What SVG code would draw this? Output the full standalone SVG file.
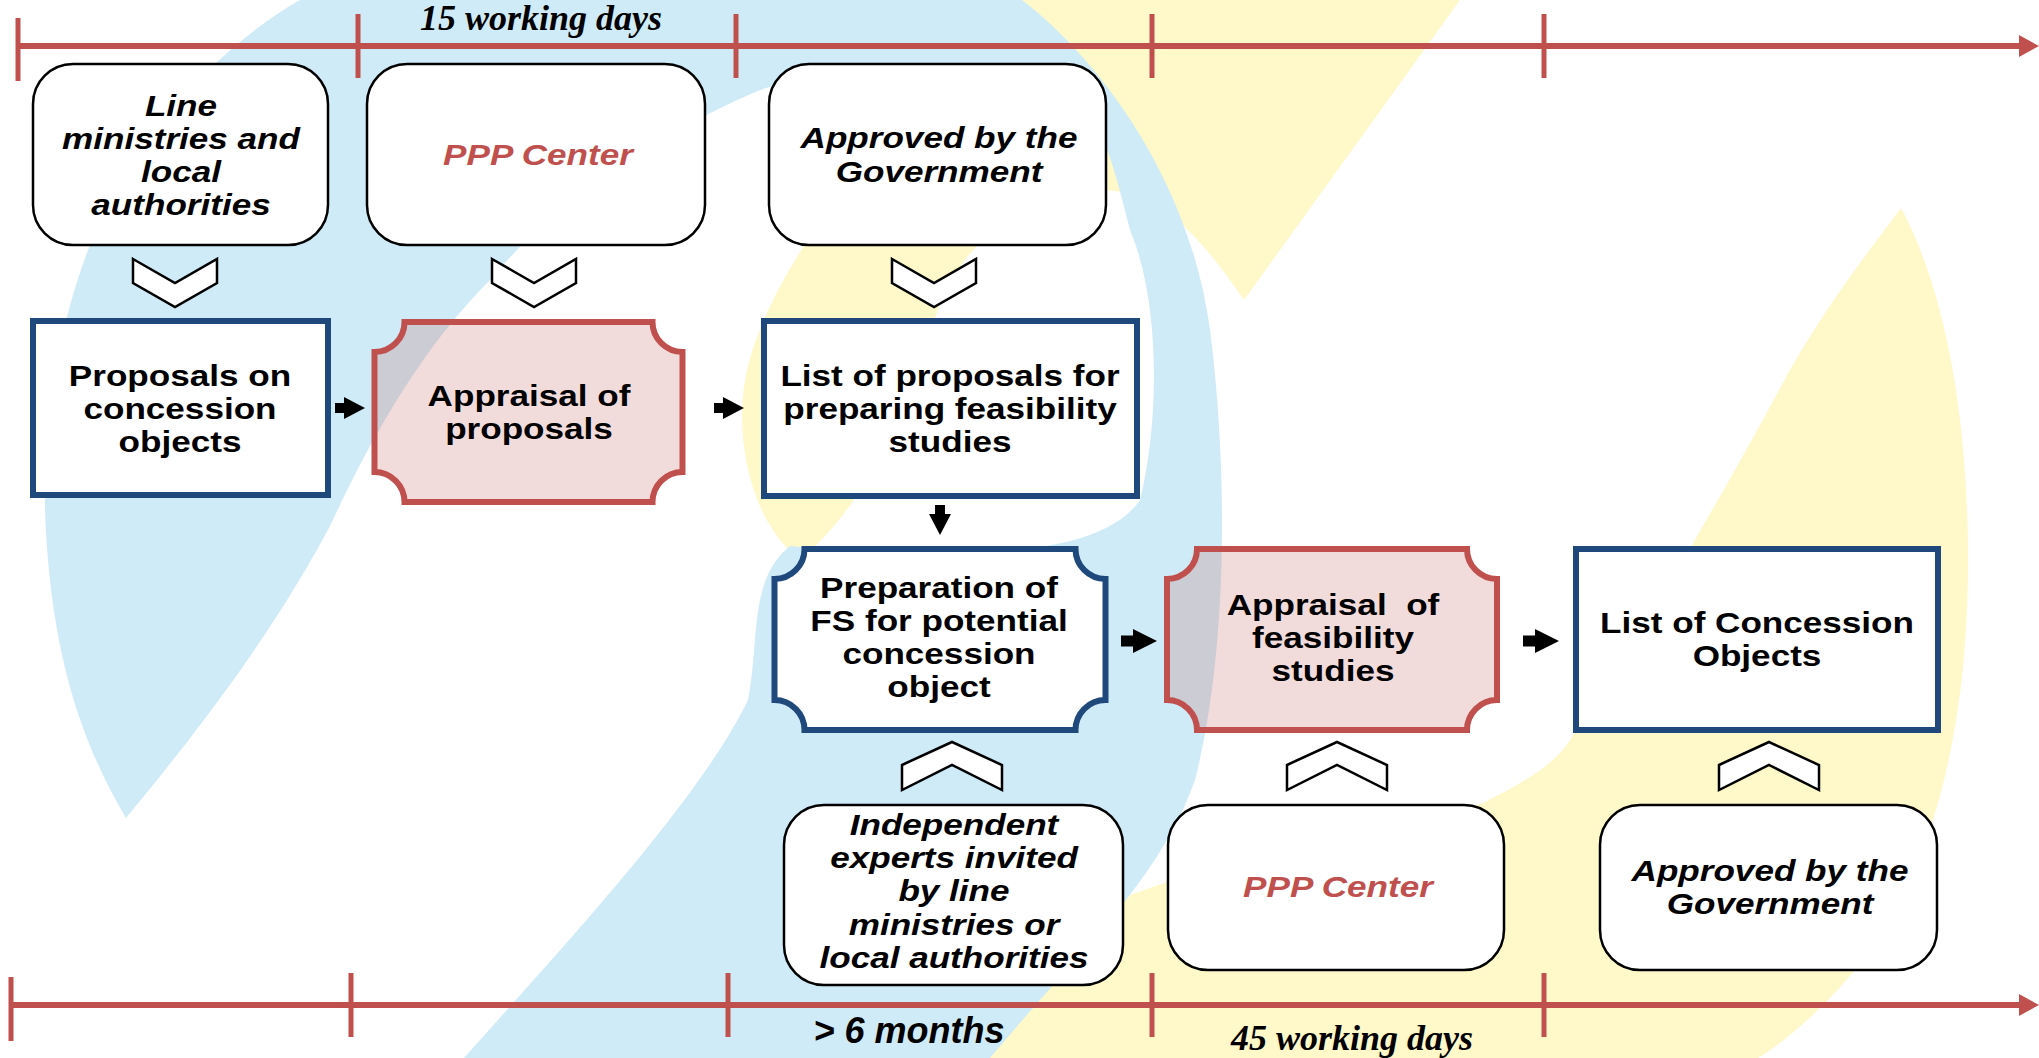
<svg xmlns="http://www.w3.org/2000/svg" width="2039" height="1058" viewBox="0 0 2039 1058">
<style>
  .blue{fill:#CFEBF7}
  .yel{fill:#FFF8C8}
  .tl{stroke:#C0504D;stroke-width:6;fill:none}
  .tick{stroke:#C0504D;stroke-width:5}
  .rbox{fill:#FFFFFF;stroke:#000000;stroke-width:2.5}
  .bbox{fill:#FFFFFF;stroke:#1F497D;stroke-width:6}
  .bplq{fill:#FFFFFF;stroke:#1F497D;stroke-width:6}
  .rplq{fill:#C0504D;fill-opacity:0.2;stroke:#C0504D;stroke-width:6}
  .chev{fill:#FFFFFF;stroke:#000000;stroke-width:2.5}
  .arr{fill:#000000}
  text{font-family:"Liberation Sans",Arial,sans-serif;font-weight:bold;font-size:29.5px;text-anchor:middle;fill:#000000}
  .it{font-style:italic}
  .red{fill:#C0504D}
  .lbl{font-size:36px}
  .serif{font-family:"Liberation Serif","Times New Roman",serif;font-size:36px}
</style>
<defs>
  <marker id="tlArrow" viewBox="0 0 20 22" refX="6" refY="11" markerWidth="20" markerHeight="22" markerUnits="userSpaceOnUse" orient="auto">
    <path d="M0,0 L20,11 L0,22 Z" fill="#C0504D"/>
  </marker>
  <path id="arrowS" d="M0,-5 H9 V-11 L30,0 L9,11 V5 H0 Z"/>
  <path id="arrowL" d="M0,-5.5 H12 V-12 L36,0 L12,12 V5.5 H0 Z"/>
  <path id="arrowD" d="M-5,0 H5 V9 H11 L0,30 L-11,9 H-5 Z"/>
  <polygon id="chevDown" points="0,0 42,24 84,0 84,24 42,48 0,24"/>
  <polygon id="chevUp" points="0,23 50,0 100,23 100,48 50,23 0,48"/>
</defs>

<g id="background">
  <path class="yel" d="M1010,0 L1460,0 L1244,300 C1190,220 1150,190 1100,190 C1020,200 960,240 935,318 C900,420 870,500 800,560 C750,520 735,440 745,380 C760,300 820,220 870,150 C920,90 960,40 1010,0 Z"/>
  <path class="yel" d="M1901,208 C1940,280 1968,400 1968,560 C1968,760 1920,900 1842,985 C1810,1020 1780,1045 1758,1058 L980,1058 C1000,1000 1050,950 1130,895 C1250,850 1400,830 1481,804 C1530,780 1560,760 1573,735 C1650,620 1720,500 1790,370 C1830,300 1870,250 1901,208 Z"/>
  <path class="blue" d="M300,0 L1022,0 C1100,60 1190,180 1210,330 C1228,470 1228,650 1195,780 C1160,880 1080,950 990,1058 L464,1058 C560,950 700,800 748,700 C760,640 748,580 790,546 C950,560 1100,560 1140,500 C1160,420 1160,300 1130,230 C1120,190 1112,160 1100,130 C1000,60 850,60 760,90 C620,150 540,220 490,280 C420,350 370,440 330,526 C290,600 240,680 126,818 C80,740 50,650 45,510 C45,380 70,280 110,200 C160,110 230,40 300,0 Z"/>
</g>

<g id="timelines">
  <line class="tl" x1="18" y1="46" x2="2025" y2="46" marker-end="url(#tlArrow)"/>
  <line class="tick" x1="18" y1="18" x2="18" y2="81"/>
  <line class="tick" x1="358" y1="14" x2="358" y2="78"/>
  <line class="tick" x1="736" y1="14" x2="736" y2="78"/>
  <line class="tick" x1="1152" y1="14" x2="1152" y2="78"/>
  <line class="tick" x1="1544" y1="14" x2="1544" y2="78"/>
  <text class="serif it" x="541" y="30">15 working days</text>

  <line class="tl" x1="11" y1="1005" x2="2025" y2="1005" marker-end="url(#tlArrow)"/>
  <line class="tick" x1="11" y1="977" x2="11" y2="1041"/>
  <line class="tick" x1="351" y1="973" x2="351" y2="1037"/>
  <line class="tick" x1="728" y1="973" x2="728" y2="1037"/>
  <line class="tick" x1="1152" y1="973" x2="1152" y2="1037"/>
  <line class="tick" x1="1544" y1="973" x2="1544" y2="1037"/>
  <text class="it lbl" x="909" y="1043">&gt; 6 months</text>
  <text class="serif it" x="1352" y="1050">45 working days</text>
</g>

<g id="connectors">
  <use href="#chevDown" class="chev" x="133" y="259"/>
  <use href="#chevDown" class="chev" x="492" y="259"/>
  <use href="#chevDown" class="chev" x="892" y="259"/>
  <use href="#chevUp" class="chev" x="902" y="742"/>
  <use href="#chevUp" class="chev" x="1287" y="742"/>
  <use href="#chevUp" class="chev" x="1719" y="742"/>
  <use href="#arrowS" class="arr" x="335" y="408"/>
  <use href="#arrowS" class="arr" x="714" y="408"/>
  <use href="#arrowD" class="arr" x="940" y="505"/>
  <use href="#arrowL" class="arr" x="1121" y="641"/>
  <use href="#arrowL" class="arr" x="1523" y="641"/>
</g>

<g id="n-line-ministries">
  <rect class="rbox" x="33" y="64" width="295" height="181" rx="40" ry="40"/>
  <text class="it" transform="translate(181 0) scale(1.19 1)"><tspan x="0" y="116">Line</tspan><tspan x="0" y="149">ministries and</tspan><tspan x="0" y="182">local</tspan><tspan x="0" y="215">authorities</tspan></text>
</g>
<g id="n-ppp-center-top">
  <rect class="rbox" x="367" y="64" width="338" height="181" rx="40" ry="40"/>
  <text class="it red" transform="translate(538 0) scale(1.19 1)" x="0" y="165">PPP Center</text>
</g>
<g id="n-approved-top">
  <rect class="rbox" x="769" y="64" width="337" height="181" rx="40" ry="40"/>
  <text class="it" transform="translate(939 0) scale(1.19 1)"><tspan x="0" y="148">Approved by the</tspan><tspan x="0" y="182">Government</tspan></text>
</g>

<g id="n-proposals">
  <rect class="bbox" x="33" y="321" width="295" height="174"/>
  <text transform="translate(180 0) scale(1.19 1)"><tspan x="0" y="386">Proposals on</tspan><tspan x="0" y="419">concession</tspan><tspan x="0" y="452">objects</tspan></text>
</g>
<g id="n-appraisal-proposals">
  <path class="rplq" d="M404.5,322 H652.5 A30,30 0 0 0 682.5,352 V472 A30,30 0 0 0 652.5,502 H404.5 A30,30 0 0 0 374.5,472 V352 A30,30 0 0 0 404.5,322 Z"/>
  <text transform="translate(529 0) scale(1.19 1)"><tspan x="0" y="406">Appraisal of</tspan><tspan x="0" y="439">proposals</tspan></text>
</g>
<g id="n-list-proposals">
  <rect class="bbox" x="764" y="321" width="373" height="175"/>
  <text transform="translate(950 0) scale(1.19 1)"><tspan x="0" y="386">List of proposals for</tspan><tspan x="0" y="419">preparing feasibility</tspan><tspan x="0" y="452">studies</tspan></text>
</g>

<g id="n-preparation-fs">
  <path class="bplq" d="M804.5,549 H1075.5 A30,30 0 0 0 1105.5,579 V700 A30,30 0 0 0 1075.5,730 H804.5 A30,30 0 0 0 774.5,700 V579 A30,30 0 0 0 804.5,549 Z"/>
  <text transform="translate(939 0) scale(1.19 1)"><tspan x="0" y="598">Preparation of</tspan><tspan x="0" y="631">FS for potential</tspan><tspan x="0" y="664">concession</tspan><tspan x="0" y="697">object</tspan></text>
</g>
<g id="n-appraisal-fs">
  <path class="rplq" d="M1197,549 H1467 A30,30 0 0 0 1497,579 V700 A30,30 0 0 0 1467,730 H1197 A30,30 0 0 0 1167,700 V579 A30,30 0 0 0 1197,549 Z"/>
  <text transform="translate(1333 0) scale(1.19 1)"><tspan x="0" y="615">Appraisal&#160; of</tspan><tspan x="0" y="648">feasibility</tspan><tspan x="0" y="681">studies</tspan></text>
</g>
<g id="n-list-concession">
  <rect class="bbox" x="1576" y="549" width="362" height="181"/>
  <text transform="translate(1757 0) scale(1.19 1)"><tspan x="0" y="633">List of Concession</tspan><tspan x="0" y="666">Objects</tspan></text>
</g>

<g id="n-independent-experts">
  <rect class="rbox" x="784" y="805" width="339" height="180" rx="40" ry="40"/>
  <text class="it" transform="translate(954 0) scale(1.19 1)"><tspan x="0" y="835">Independent</tspan><tspan x="0" y="868">experts invited</tspan><tspan x="0" y="901">by line</tspan><tspan x="0" y="935">ministries or</tspan><tspan x="0" y="968">local authorities</tspan></text>
</g>
<g id="n-ppp-center-bottom">
  <rect class="rbox" x="1168" y="805" width="336" height="165" rx="40" ry="40"/>
  <text class="it red" transform="translate(1338 0) scale(1.19 1)" x="0" y="897">PPP Center</text>
</g>
<g id="n-approved-bottom">
  <rect class="rbox" x="1600" y="805" width="337" height="165" rx="40" ry="40"/>
  <text class="it" transform="translate(1770 0) scale(1.19 1)"><tspan x="0" y="881">Approved by the</tspan><tspan x="0" y="914">Government</tspan></text>
</g>
</svg>
